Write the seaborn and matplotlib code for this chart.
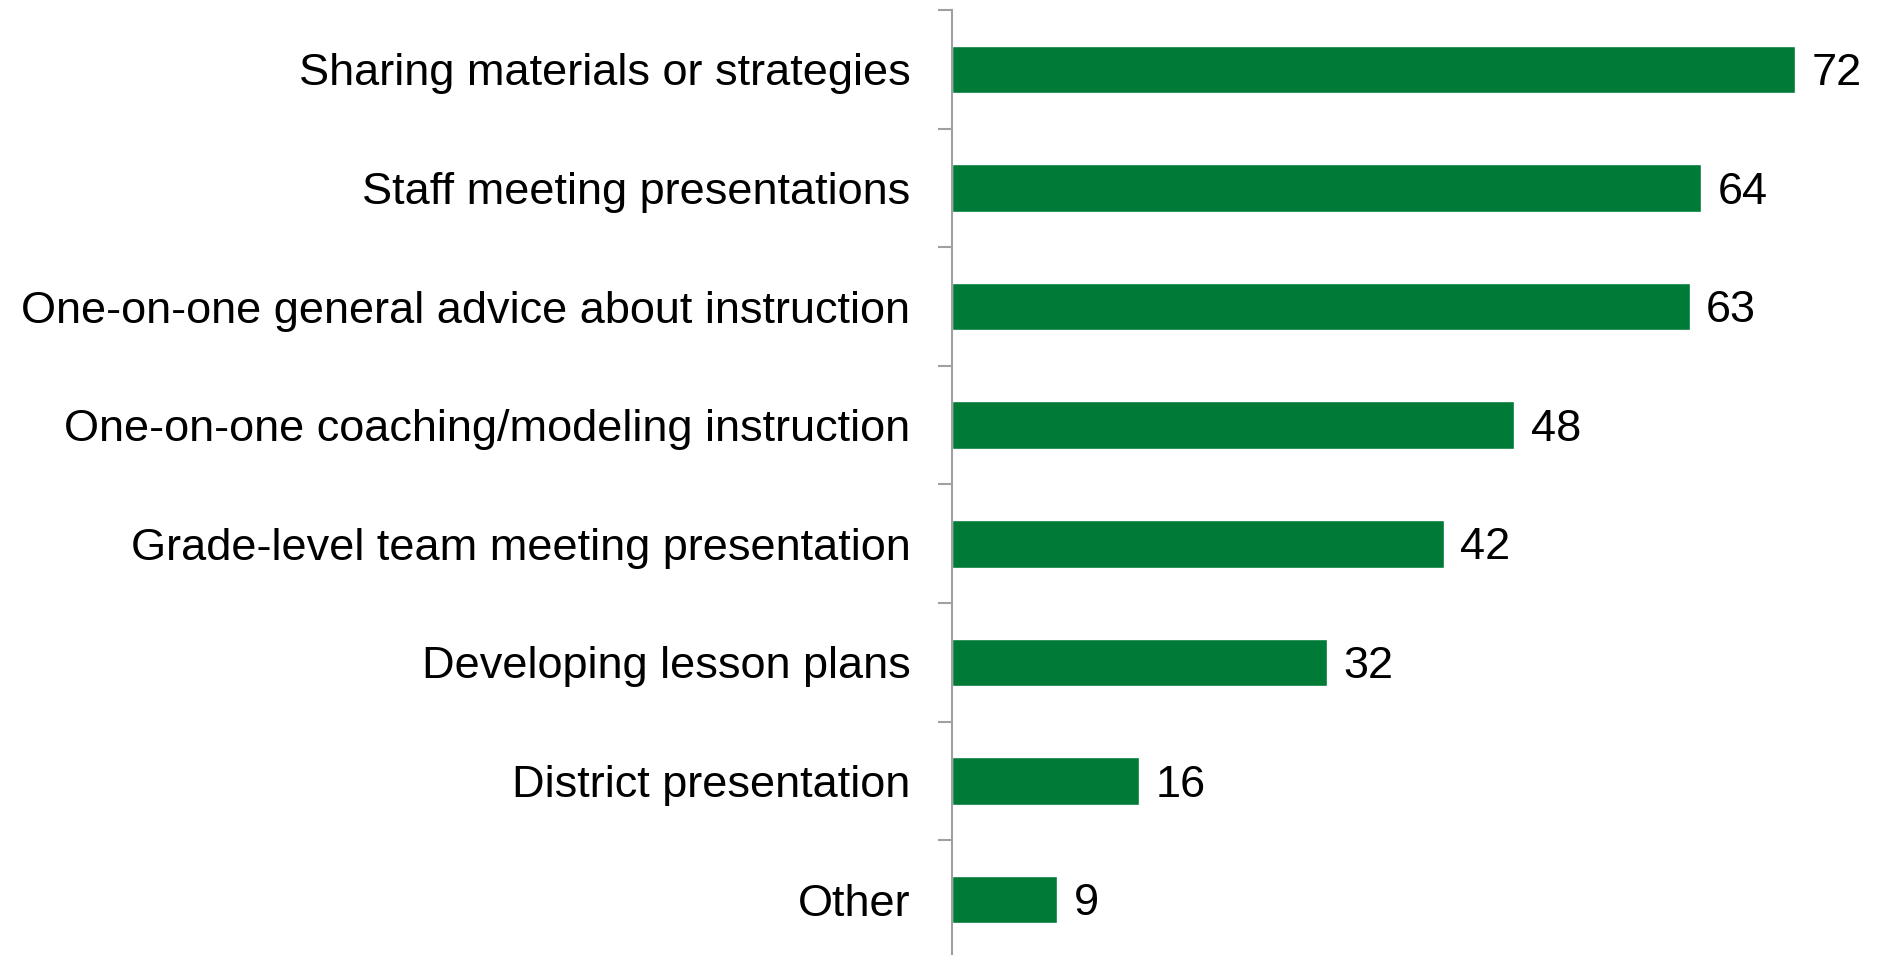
import numpy as np
import pandas as pd
import seaborn as sns
import matplotlib.pyplot as plt
from matplotlib.ticker import FixedLocator

# Survey activities and percentages
activities = ['Sharing materials or strategies',
              'Staff meeting presentations',
              'One-on-one general advice about instruction',
              'One-on-one coaching/modeling instruction',
              'Grade-level team meeting presentation',
              'Developing lesson plans',
              'District presentation',
              'Other']
percent = [72, 64, 63, 48, 42, 32, 16, 9]

df = pd.DataFrame({'Activity': activities, 'Percent': percent})

sns.set_style('white')
plt.rcParams['font.family'] = ['Liberation Sans', 'DejaVu Sans']

fig = plt.figure(figsize=(18.78, 9.55), dpi=100)
ax = fig.add_axes([952 / 1878, -4 / 955, 926 / 1878, 949 / 955])

sns.barplot(data=df, x='Percent', y='Activity', orient='h', color='#007A37',
            width=0.4, saturation=1, ax=ax)
labels = ax.bar_label(ax.containers[0], fmt='%d', padding=12, fontsize=32.5, color='black')
for t in labels:
    t.xyann = (t.xyann[0], -3)  # nudge down a little

ax.set_xlim(0, 79.1)
ax.set_ylim(len(activities) - 0.5, -0.5)
ax.set_xlabel('')
ax.set_ylabel('')
ax.set_xticks([])

for s in ['top', 'right', 'bottom']:
    ax.spines[s].set_visible(False)
ax.spines['left'].set_color('#A0A0A0')
ax.spines['left'].set_linewidth(1.5)

ax.yaxis.set_minor_locator(FixedLocator(np.arange(-0.5, len(activities), 1)))
ax.tick_params(axis='y', which='major', length=0, pad=30, labelsize=32.5, labelcolor='black')
ax.tick_params(axis='y', which='minor', length=10, width=1.5, color='#A0A0A0', left=True)

fig.savefig('out.png', dpi=100)
